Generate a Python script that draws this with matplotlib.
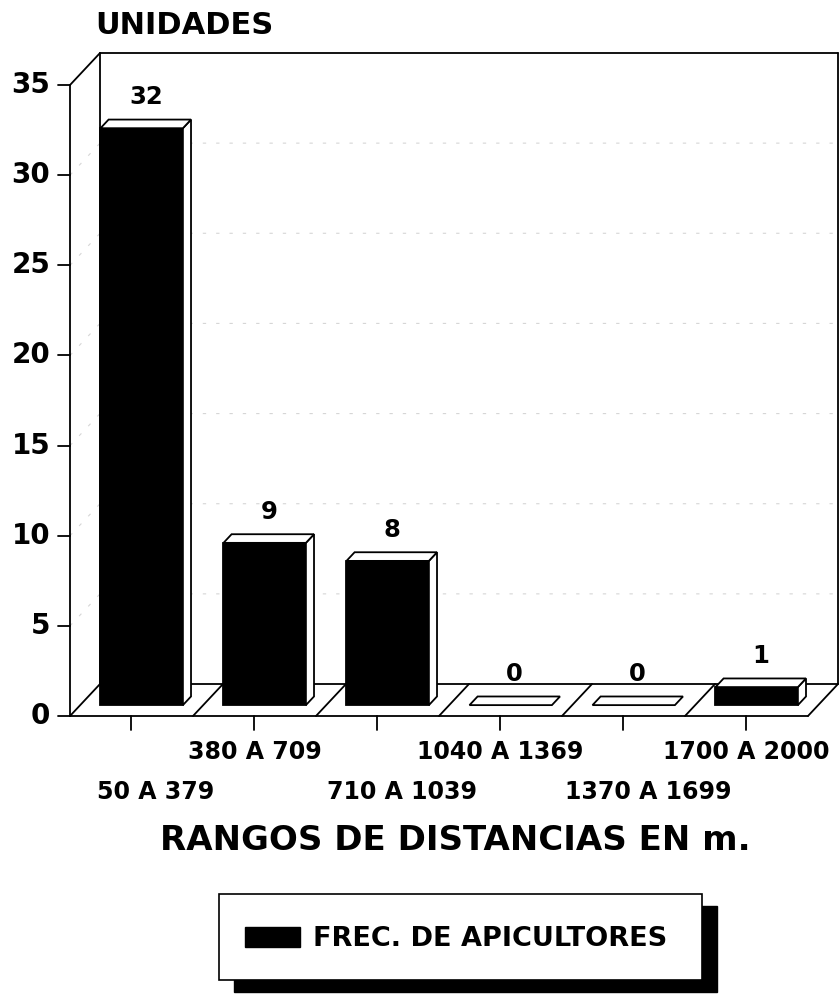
import matplotlib
matplotlib.use("Agg")
import matplotlib.pyplot as plt
from matplotlib.patches import Polygon, Rectangle

# ---- data ----
categories = ["50 A 379", "380 A 709", "710 A 1039", "1040 A 1369", "1370 A 1699", "1700 A 2000"]
values = [32, 9, 8, 0, 0, 1]
yticks = [0, 5, 10, 15, 20, 25, 30, 35]
ylabel = "UNIDADES"
xlabel = "RANGOS DE DISTANCIAS EN m."
series_name = "FREC. DE APICULTORES"

plt.rcParams["font.family"] = ["DejaVu Sans"]
plt.rcParams["font.weight"] = "bold"

W, H = 840, 994
fig = plt.figure(figsize=(W / 100, H / 100), dpi=100)

n = len(categories)
ymax = yticks[-1]
DX, DY = 0.244, 1.775          # depth of floor / walls (data units)
F0, F1 = 0.34, 0.61            # bar front/back position inside the floor depth
BW = 0.67                      # bar width (category units)

ax = fig.add_axes([70 / W, (H - 716) / H, 768 / W, 663 / H])
ax.set_xlim(0, n + DX)
ax.set_ylim(0, ymax + DY)
ax.axis("off")

lw = 1.3
kw = dict(color="black", lw=lw, clip_on=False, solid_capstyle="round")

# gridlines on walls (faint)
for v in yticks[1:-1]:
    ax.plot([0, DX, n + DX], [v, v + DY, v + DY], color="#d6d6d6", lw=0.8,
            ls=(0, (3, 9)), clip_on=False, zorder=1)

# left wall
ax.plot([0, 0], [0, ymax], **kw)
ax.plot([0, DX], [ymax, ymax + DY], **kw)
ax.plot([DX, DX], [DY, ymax + DY], **kw)
# back wall
ax.plot([DX, n + DX], [ymax + DY, ymax + DY], **kw)
ax.plot([n + DX, n + DX], [DY, ymax + DY], **kw)
# floor
ax.plot([0, n], [0, 0], **kw)
ax.plot([DX, n + DX], [DY, DY], **kw)
for k in range(n + 1):
    ax.plot([k, k + DX], [0, DY], **kw)

# y ticks
for v in yticks:
    ax.plot([-0.1, 0], [v, v], **kw)
    ax.text(-0.16, v, str(v), ha="right", va="center", fontsize=20,
            fontweight="bold", clip_on=False)

# x ticks + staggered labels
for i, lab in enumerate(categories):
    c = i + 0.5
    ax.plot([c, c], [0, -0.75], **kw)
    if i % 2 == 1:
        ax.text(c, -2.0, lab, ha="center", va="center", fontsize=17, fontweight="bold")
    else:
        ax.text(c + 0.2, -4.2, lab, ha="center", va="center", fontsize=17, fontweight="bold")

# bars
gap = (1 - BW) / 2
bdx, bdy = (F1 - F0) * DX, (F1 - F0) * DY
for i, v in enumerate(values):
    x0 = i + gap + F0 * DX
    y0 = F0 * DY
    if v > 0:
        ax.add_patch(Rectangle((x0, y0), BW, v, facecolor="black", edgecolor="black",
                               lw=lw, zorder=3, clip_on=False))
        ax.add_patch(Polygon([(x0 + BW, y0), (x0 + BW + bdx, y0 + bdy),
                              (x0 + BW + bdx, y0 + v + bdy), (x0 + BW, y0 + v)],
                             closed=True, facecolor="white", edgecolor="black",
                             lw=lw, zorder=3, clip_on=False))
    ax.add_patch(Polygon([(x0, y0 + v), (x0 + BW, y0 + v), (x0 + BW + bdx, y0 + v + bdy),
                          (x0 + bdx, y0 + v + bdy)], closed=True, facecolor="white",
                         edgecolor="black", lw=lw, zorder=3, clip_on=False))
    ax.text(x0 + BW / 2 + bdx / 2, y0 + v + bdy + 1.25, str(v), ha="center", va="center",
            fontsize=17.5, fontweight="bold")

# titles
fig.text(95 / W, 1 - 25 / H, ylabel, ha="left", va="center", fontsize=22, fontweight="bold")
fig.text(455 / W, 1 - 840 / H, xlabel, ha="center", va="center", fontsize=24.5, fontweight="bold")

# legend (box with black drop shadow)
bx0, by0, bx1, by1 = 219, 894, 702, 980
fig.patches.append(Rectangle((234 / W, 1 - 992 / H), (bx1 - bx0) / W, (by1 - by0) / H,
                             transform=fig.transFigure, facecolor="black", edgecolor="black",
                             zorder=1))
fig.patches.append(Rectangle((bx0 / W, 1 - by1 / H), (bx1 - bx0) / W, (by1 - by0) / H,
                             transform=fig.transFigure, facecolor="white", edgecolor="black",
                             lw=1.2, zorder=2))
fig.patches.append(Rectangle((245 / W, 1 - 947 / H), 55 / W, 20 / H,
                             transform=fig.transFigure, facecolor="black", edgecolor="black",
                             zorder=3))
fig.text(313 / W, 1 - 939 / H, series_name, ha="left", va="center", fontsize=19.5,
         fontweight="bold", zorder=4)

fig.savefig("out.png", dpi=100)
